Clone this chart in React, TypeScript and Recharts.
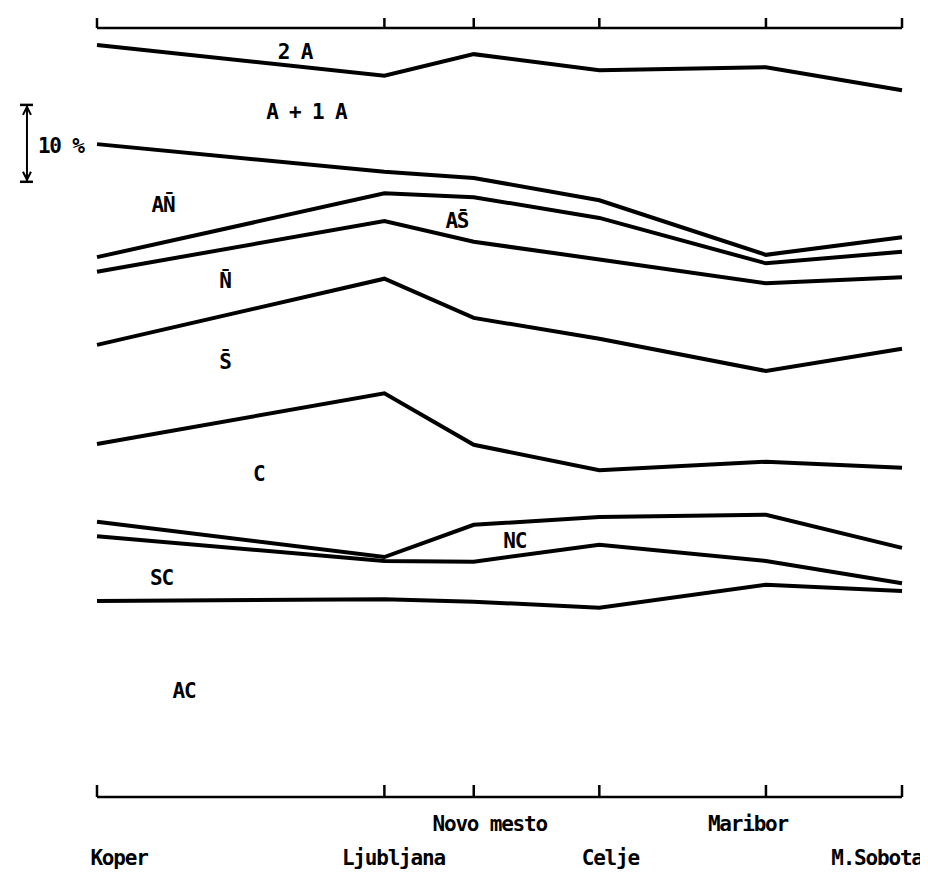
import React from 'react';
import { LineChart, Line, XAxis, YAxis, ReferenceDot, ReferenceLine } from 'recharts';

// Places along the transect (category labels) and their position along the axis (0-100)
const cities = ['Koper', 'Ljubljana', 'Novo mesto', 'Celje', 'Maribor', 'M.Sobota'];
const cityPos = [0, 35.7, 46.8, 62.4, 83.1, 100];

// Cumulative boundaries (percent of total, 0 = bottom axis, 100 = top axis)
const line2A = [97.8, 93.8, 96.6, 94.5, 94.9, 91.9];   // 2A | A+1A
const lineA1A = [84.9, 81.3, 80.5, 77.6, 70.5, 72.8];  // A+1A | AN
const lineAN = [70.2, 78.5, 78.0, 75.3, 69.4, 70.9];   // AN | AS
const lineAS = [68.3, 74.9, 72.2, 69.9, 66.8, 67.6];   // AS | N
const lineN = [58.8, 67.4, 62.3, 59.6, 55.4, 58.3];    // N | S
const lineS = [45.9, 52.5, 45.8, 42.5, 43.6, 42.8];    // S | C
const lineC = [35.8, 31.2, 35.4, 36.4, 36.7, 32.4];    // C | NC
const lineNC = [33.9, 30.7, 30.6, 32.8, 30.7, 27.8];   // NC | SC
const lineSC = [25.5, 25.7, 25.4, 24.6, 27.6, 26.8];   // SC | AC

// Band names and their anchor (axis position, percent)
const bandNames = ['2 A', 'A + 1 A', 'AN\u0304', 'AS\u0304', 'N\u0304', 'S\u0304', 'C', 'NC', 'SC', 'AC'];
const bandX = [24.6, 26.0, 8.2, 44.7, 15.9, 15.9, 20.1, 51.9, 8.0, 10.8];
const bandY = [96.9, 89.1, 77.0, 74.9, 67.1, 56.6, 42.0, 33.3, 28.6, 13.8];

// Scale bracket: 10 %
const scaleFrom = 80;
const scaleTo = 90;
const scaleLabel = '10 %';

const seriesKeys = ['line2A', 'lineA1A', 'lineAN', 'lineAS', 'lineN', 'lineS', 'lineC', 'lineNC', 'lineSC'];
const seriesVals = [line2A, lineA1A, lineAN, lineAS, lineN, lineS, lineC, lineNC, lineSC];

const data = cities.map((c, i) => {
  const row: Record<string, number | string> = { name: c, x: cityPos[i] };
  seriesKeys.forEach((k, j) => {
    row[k] = seriesVals[j][i];
  });
  return row;
});

const FONT = '"DejaVu Sans Mono", "Liberation Mono", monospace';
const INK = '#000';

// label layout (pixel offsets from tick, rows)
const labelDx = [22, 9, 16, 11, -18, -25];
const labelRow = [61, 61, 27, 61, 27, 61];

const BottomTick = (props: any) => {
  const { x, y, payload } = props;
  const i = cityPos.indexOf(payload.value);
  return (
    <g>
      <line x1={x} y1={y} x2={x} y2={y - 12} stroke={INK} strokeWidth={2.5} />
      <text
        x={x + (labelDx[i] ?? 0)}
        y={y + (labelRow[i] ?? 40)}
        textAnchor="middle"
        dominantBaseline="central"
        fontFamily={FONT}
        fontWeight="bold"
        fontSize={21}
        letterSpacing={-1.2}
        fill={INK}
      >
        {cities[i]}
      </text>
    </g>
  );
};

const TopTick = (props: any) => {
  const { x, y } = props;
  return <line x1={x} y1={y} x2={x} y2={y - 10} stroke={INK} strokeWidth={2.5} />;
};

const BracketShape = (props: any) => {
  const { x1, y1, x2, y2 } = props;
  const x = (x1 + x2) / 2;
  const top = Math.min(y1, y2);
  const bot = Math.max(y1, y2);
  return (
    <g stroke={INK} strokeWidth={2} fill="none">
      <line x1={x} y1={top} x2={x} y2={bot} />
      <line x1={x - 7} y1={top} x2={x + 6} y2={top} strokeWidth={2.5} />
      <line x1={x - 7} y1={bot} x2={x + 6} y2={bot} strokeWidth={2.5} />
      <polyline points={`${x - 4},${top + 10} ${x},${top + 2} ${x + 4},${top + 10}`} />
      <polyline points={`${x - 4},${bot - 10} ${x},${bot - 2} ${x + 4},${bot - 10}`} />
    </g>
  );
};

const labelStyle = {
  position: 'center' as const,
  fill: INK,
  fontSize: 21,
  fontFamily: FONT,
  fontWeight: 'bold',
  letterSpacing: -1.2,
};

export default function App() {
  const bracketX = -8.7;
  return (
    <div style={{ width: 918, height: 866, background: '#fff' }}>
      <LineChart
        width={918}
        height={866}
        data={data}
        margin={{ top: 19, right: 24, bottom: 76, left: 89 }}
      >
        <XAxis
          xAxisId="bottom"
          dataKey="x"
          type="number"
          domain={[0, 100]}
          ticks={cityPos}
          orientation="bottom"
          height={1}
          tickSize={0}
          tickMargin={0}
          tickLine={false}
          axisLine={{ stroke: INK, strokeWidth: 2.5 }}
          tick={<BottomTick />}
          interval={0}
        />
        <XAxis
          xAxisId="top"
          dataKey="x"
          type="number"
          domain={[0, 100]}
          ticks={cityPos}
          orientation="top"
          height={1}
          tickSize={0}
          tickMargin={0}
          tickLine={false}
          axisLine={{ stroke: INK, strokeWidth: 2.5 }}
          tick={<TopTick />}
          interval={0}
        />
        <YAxis type="number" domain={[0, 100]} hide width={0} />
        {seriesKeys.map((k) => (
          <Line
            key={k}
            xAxisId="bottom"
            dataKey={k}
            type="linear"
            stroke={INK}
            strokeWidth={4}
            dot={false}
            activeDot={false}
            isAnimationActive={false}
          />
        ))}
        {bandNames.map((n, i) => (
          <ReferenceDot
            key={n}
            xAxisId="bottom"
            x={bandX[i]}
            y={bandY[i]}
            r={0}
            fill="none"
            stroke="none"
            ifOverflow="visible"
            label={{ ...labelStyle, value: n }}
          />
        ))}
        <ReferenceLine
          xAxisId="bottom"
          segment={[
            { x: bracketX, y: scaleTo },
            { x: bracketX, y: scaleFrom },
          ]}
          ifOverflow="visible"
          stroke={INK}
          shape={BracketShape}
        />
        <ReferenceDot
          xAxisId="bottom"
          x={-4.5}
          y={84.7}
          r={0}
          fill="none"
          stroke="none"
          ifOverflow="visible"
          label={{ ...labelStyle, value: scaleLabel }}
        />
      </LineChart>
    </div>
  );
}
